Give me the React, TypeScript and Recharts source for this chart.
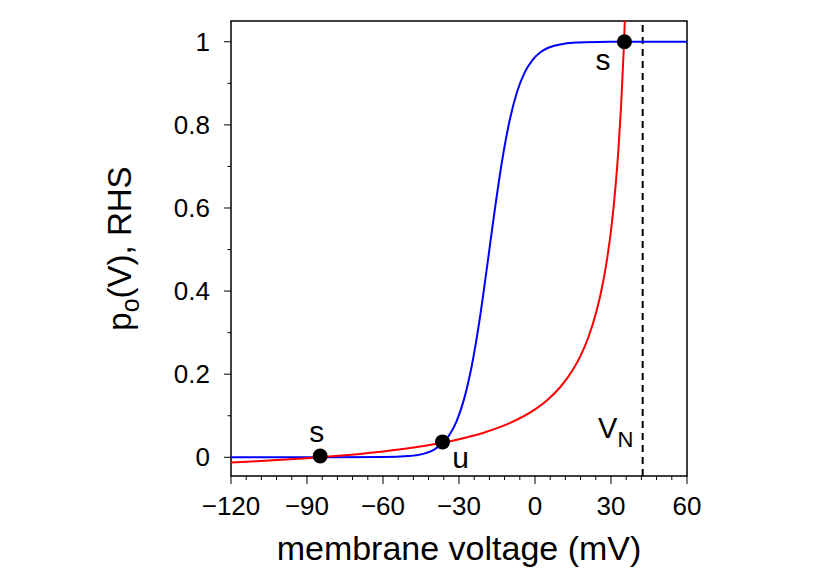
import { ComposedChart, Line, Scatter, XAxis, YAxis, ReferenceLine, ReferenceArea, Label } from "recharts"

const FONT = '"Liberation Sans", Arial, sans-serif'

// membrane voltage grid (mV) and p_o(V)
const blueV = [-120, -100, -80, -60, -50, -45, -40, -37, -34, -31, -28, -25, -22, -19, -16, -13, -10, -7, -4, -1, 2, 5, 8, 12, 16, 20, 30, 45, 60]
const blueP = [0, 0, 0, 0.0005, 0.003, 0.007, 0.018, 0.031, 0.052, 0.086, 0.14, 0.219, 0.326, 0.455, 0.59, 0.713, 0.811, 0.881, 0.927, 0.956, 0.974, 0.985, 0.991, 0.996, 0.998, 0.999, 1, 1, 1]

// right hand side (red curve)
const redV = [-120, -110, -100, -90, -80, -70, -60, -50, -40, -30, -20, -10, 0, 5, 10, 15, 18, 21, 24, 26, 28, 30, 31, 32, 33, 34, 35, 35.5, 36]
const redR = [-0.0123, -0.0094, -0.006, -0.0022, 0.0023, 0.0076, 0.014, 0.0217, 0.0313, 0.0435, 0.0598, 0.0822, 0.1154, 0.1386, 0.1692, 0.2111, 0.2446, 0.2877, 0.3452, 0.3954, 0.46, 0.5463, 0.6011, 0.6669, 0.7473, 0.8479, 0.9771, 1.0567, 1.1495]

// fixed points
const fixedV = [-84.8, -36.5, 35.3]
const fixedP = [0.003, 0.037, 1.0]

// point labels (text baseline centre)
const labelText = ["s", "u", "s"]
const labelV = [-86.2, -29.4, 26.8]
const labelY = [0.037, -0.026, 0.933]

const VN = 42.5
const vnLabelV = 24.9
const vnLabelY = 0.046

const xTicks = [-120, -114, -108, -102, -96, -90, -84, -78, -72, -66, -60, -54, -48, -42, -36, -30, -24, -18, -12, -6, 0, 6, 12, 18, 24, 30, 36, 42, 48, 54, 60]
const yTicks = [0, 0.1, 0.2, 0.3, 0.4, 0.5, 0.6, 0.7, 0.8, 0.9, 1]

const blueData = blueV.map((v, i) => ({ v, y: blueP[i] }))
const redData = redV.map((v, i) => ({ v, y: redR[i] }))
const fixedData = fixedV.map((v, i) => ({ v, y: fixedP[i] }))
const labelData = labelText.map((t, i) => ({ v: labelV[i], y: labelY[i], text: t }))
const vnData = [{ v: vnLabelV, y: vnLabelY }]

const fmt = (n: number) => (n < 0 ? "\u2212" + Math.abs(n) : String(n))

function XTick(props: any) {
  const { x, y, payload } = props
  const major = payload.value % 30 === 0
  return (
    <g>
      <line x1={x} x2={x} y1={y} y2={y + (major ? 8 : 4)} stroke="#000" strokeWidth={1} />
      {major && (
        <text x={x} y={y + 39} textAnchor="middle" fontSize={26} fontFamily={FONT} fill="#000">
          {fmt(payload.value)}
        </text>
      )}
    </g>
  )
}

function YTick(props: any) {
  const { x, y, payload } = props
  const major = Math.round(payload.value * 10) % 2 === 0
  return (
    <g>
      <line x1={x - (major ? 7 : 3.5)} x2={x} y1={y} y2={y} stroke="#000" strokeWidth={1} />
      {major && (
        <text x={x - 21} y={y + 9} textAnchor="end" fontSize={26} fontFamily={FONT} fill="#000">
          {fmt(payload.value)}
        </text>
      )}
    </g>
  )
}

export default function App() {
  return (
    <ComposedChart width={822} height={573} margin={{ top: 13, right: 143, bottom: 0, left: 0 }}>
      <XAxis
        type="number"
        dataKey="v"
        domain={[-120, 60]}
        ticks={xTicks}
        interval={0}
        tickSize={0}
        tickMargin={0}
        axisLine={false}
        tick={<XTick />}
        height={105}
      >
        <Label
          content={(p: any) => {
            const vb = p.viewBox || { x: 223, y: 468, width: 456 }
            return (
              <text x={vb.x + vb.width / 2} y={vb.y + 84} textAnchor="middle" fontSize={34} fontFamily={FONT} fill="#000">
                membrane voltage (mV)
              </text>
            )
          }}
        />
      </XAxis>
      <YAxis
        type="number"
        dataKey="y"
        domain={[-0.045, 1.05]}
        ticks={yTicks}
        interval={0}
        tickSize={0}
        tickMargin={0}
        axisLine={false}
        allowDataOverflow
        tick={<YTick />}
        width={223}
      >
        <Label
          content={(p: any) => {
            const vb = p.viewBox || { x: 0, y: 13, width: 223, height: 455 }
            const cx = vb.x + 123
            const cy = vb.y + vb.height / 2
            return (
              <text x={cx} y={cy} transform={`rotate(-90 ${cx} ${cy})`} textAnchor="middle" fontSize={33} fontFamily={FONT} fill="#000">
                <tspan>p</tspan>
                <tspan fontSize={25} dy={8}>o</tspan>
                <tspan dy={-8}>(V), RHS</tspan>
              </text>
            )
          }}
        />
      </YAxis>
      <ReferenceLine x={VN} stroke="#000" strokeWidth={2} strokeDasharray="7 5" />
      <Line data={blueData} dataKey="y" type="monotone" stroke="#0000ff" strokeWidth={2} dot={false} isAnimationActive={false} />
      <Line data={redData} dataKey="y" type="monotone" stroke="#ff0000" strokeWidth={2} dot={false} isAnimationActive={false} />
      <Scatter
        data={fixedData}
        dataKey="y"
        isAnimationActive={false}
        shape={(p: any) => <circle cx={p.cx} cy={p.cy} r={7.5} fill="#000" />}
      />
      <Scatter
        data={labelData}
        dataKey="y"
        isAnimationActive={false}
        shape={(p: any) => (
          <text x={p.cx} y={p.cy} textAnchor="middle" fontSize={30} fontFamily={FONT} fill="#000">
            {p.payload.text}
          </text>
        )}
      />
      <Scatter
        data={vnData}
        dataKey="y"
        isAnimationActive={false}
        shape={(p: any) => (
          <text x={p.cx} y={p.cy} textAnchor="start" fontFamily={FONT} fill="#000">
            <tspan fontSize={29}>V</tspan>
            <tspan fontSize={22} dy={9}>N</tspan>
          </text>
        )}
      />
      <ReferenceArea x1={-120} x2={60} y1={-0.045} y2={1.05} fill="none" stroke="#000" strokeWidth={1.5} />
    </ComposedChart>
  )
}
